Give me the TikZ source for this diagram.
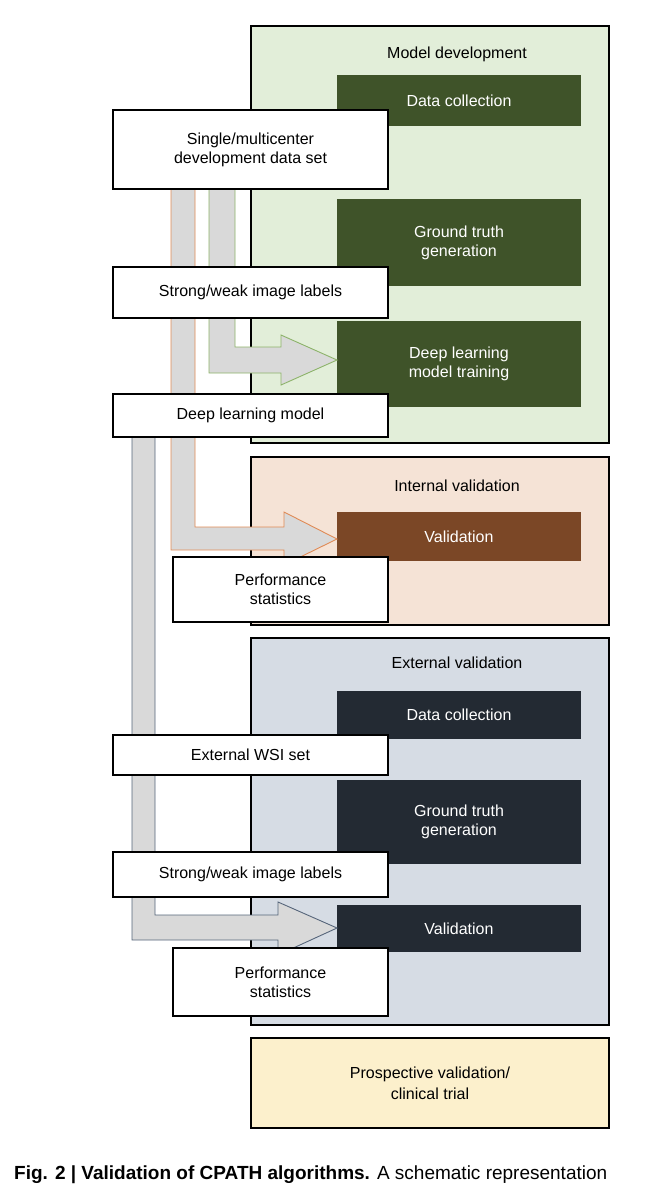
\documentclass[tikz,border=0pt]{standalone}
\usepackage{fontspec}
\setmainfont{Liberation Sans}
\begin{document}
\begin{tikzpicture}[x=1pt,y=-1pt,
 panel/.style={draw=black,line width=1.3pt},
 dark/.style={inner sep=0pt,text=white,align=center,font=\fontsize{16}{19}\selectfont},
 wbox/.style={draw=black,line width=1.2pt,fill=white,inner sep=0pt,align=center,font=\fontsize{16}{19}\selectfont},
 ttl/.style={font=\fontsize{16}{19}\selectfont},
 blk/.style={fill=gray!30,line width=0.9pt}]
\useasboundingbox (0,0) rectangle (660,1200);
\definecolor{gpan}{HTML}{E2EED9}\definecolor{gbox}{HTML}{3F5329}
\definecolor{opan}{HTML}{F5E3D6}\definecolor{obox}{HTML}{7B4726}
\definecolor{bpan}{HTML}{D6DCE4}\definecolor{bbox}{HTML}{232A33}
\definecolor{ypan}{HTML}{FCF0CC}
\definecolor{gline}{HTML}{8DB36A}\definecolor{oline}{HTML}{E08A55}\definecolor{bline}{HTML}{56657A}
% panels
\draw[panel,fill=gpan] (251,26) rectangle (609,443);
\node[ttl] (t1) at (457,54) {Model development};
\draw[panel,fill=opan] (251,457) rectangle (609,625);
\node[ttl] (t2) at (457,486) {Internal validation};
\draw[panel,fill=bpan] (251,638) rectangle (609,1025);
\node[ttl] (t3) at (457,663) {External validation};
\node[panel,fill=ypan,minimum width=358pt,minimum height=90pt,inner sep=0pt,align=center,font=\fontsize{16}{21}\selectfont] (pv) at (430,1083) {Prospective validation/\\clinical trial};
% dark boxes
\node[dark,fill=gbox,minimum width=244pt,minimum height=51pt] (dc1) at (459,100.5) {Data collection};
\node[dark,fill=gbox,minimum width=244pt,minimum height=87pt] (gt1) at (459,242.5) {Ground truth\\generation};
\node[dark,fill=gbox,minimum width=244pt,minimum height=86pt] (dl1) at (459,364) {Deep learning\\model training};
\node[dark,fill=obox,minimum width=244pt,minimum height=49pt] (v1) at (459,536.5) {Validation};
\node[dark,fill=bbox,minimum width=244pt,minimum height=48pt] (dc2) at (459,715) {Data collection};
\node[dark,fill=bbox,minimum width=244pt,minimum height=84pt] (gt2) at (459,822) {Ground truth\\generation};
\node[dark,fill=bbox,minimum width=244pt,minimum height=47pt] (v2) at (459,928.5) {Validation};
% block arrows
\draw[blk,draw=oline] (171,189) -- (195,189) -- (195,527) -- (284,527) -- (284,512) -- (337,539) -- (284,565) -- (284,550) -- (171,550) -- cycle;
\draw[blk,draw=gline] (209,189) -- (235,189) -- (235,347) -- (281,347) -- (281,335) -- (337,360) -- (281,385) -- (281,373) -- (209,373) -- cycle;
\draw[blk,draw=bline] (132,437) -- (155,437) -- (155,915) -- (278,915) -- (278,902) -- (337,928) -- (278,955) -- (278,940) -- (132,940) -- cycle;
% white boxes
\node[wbox,minimum width=275pt,minimum height=79pt] (sm) at (250.5,149.5) {Single/multicenter\\development data set};
\node[wbox,minimum width=275pt,minimum height=51pt] (sw1) at (250.5,292.5) {Strong/weak image labels};
\node[wbox,minimum width=275pt,minimum height=43pt] (dlm) at (250.5,415.5) {Deep learning model};
\node[wbox,minimum width=215pt,minimum height=65pt] (ps1) at (280.5,589.5) {Performance\\statistics};
\node[wbox,minimum width=275pt,minimum height=40pt] (ew) at (250.5,755) {External WSI set};
\node[wbox,minimum width=275pt,minimum height=45pt] (sw2) at (250.5,874.5) {Strong/weak image labels};
\node[wbox,minimum width=215pt,minimum height=68pt] (ps2) at (280.5,982) {Performance\\statistics};
% caption
\node[anchor=west,inner sep=0pt,font=\fontsize{19}{22}\selectfont] (cap) at (14,1175) {\textbf{Fig. 2 | Validation of CPATH algorithms.} A schematic representation};
\end{tikzpicture}
\end{document}
